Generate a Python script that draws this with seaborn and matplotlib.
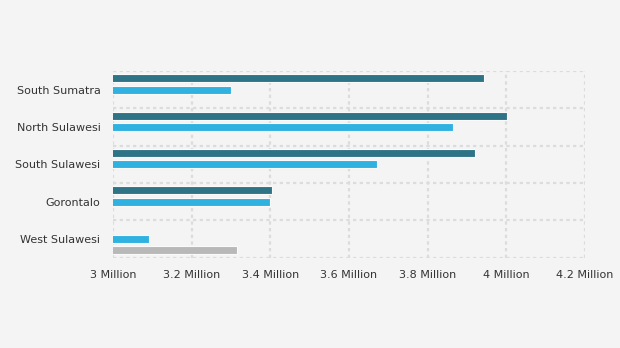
import matplotlib
matplotlib.use("Agg")
import matplotlib.pyplot as plt
import seaborn as sns
import pandas as pd
import numpy as np
from matplotlib.ticker import FuncFormatter, FixedLocator

categories = ["South Sumatra", "North Sulawesi", "South Sulawesi", "Gorontalo", "West Sulawesi"]
series_names = ["Series A", "Series B", "Series C"]
series_a = [3943000, 4002000, 3921000, 3404000, np.nan]
series_b = [3300000, 3864000, 3671000, 3399000, 3092000]
series_c = [np.nan, np.nan, np.nan, np.nan, 3315000]
colors = ["#2f7387", "#2fb2e0", "#b8b8b8"]
x_ticks = [3.0e6, 3.2e6, 3.4e6, 3.6e6, 3.8e6, 4.0e6, 4.2e6]

rows = []
for name, vals in zip(series_names, [series_a, series_b, series_c]):
    for c, v in zip(categories, vals):
        if not np.isnan(v):
            rows.append({"category": c, "series": name, "value": v})
df = pd.DataFrame(rows)

sns.set_style("white")
plt.rcParams["font.family"] = ["DejaVu Sans"]

fig = plt.figure(figsize=(6.2, 3.48), dpi=100)
fig.patch.set_facecolor("#f4f4f4")
ax = fig.add_axes([113 / 620, 1 - 257.7 / 348, (585 - 113) / 620, (257.7 - 71) / 348])
ax.set_facecolor("#f4f4f4")

sns.barplot(data=df, y="category", x="value", hue="series", order=categories,
            hue_order=series_names, palette=colors, orient="h", width=0.91,
            gap=0.28, saturation=1, edgecolor="#fafafa", linewidth=0.8, legend=False,
            ax=ax, zorder=3)

ax.set_xlim(x_ticks[0], x_ticks[-1])
ax.set_ylim(len(categories) - 0.5, -0.5)
ax.xaxis.set_major_locator(FixedLocator(x_ticks))
ax.xaxis.set_major_formatter(FuncFormatter(lambda v, p: f"{v/1e6:g} Million"))
ax.yaxis.set_minor_locator(FixedLocator(np.arange(-0.5, len(categories), 1.0)))

grid_kw = dict(color="#dcdcdc", linewidth=1.6, linestyle=(0, (1.5, 1.5)))
ax.grid(which="major", axis="x", **grid_kw)
ax.grid(which="minor", axis="y", **grid_kw)
ax.grid(which="major", axis="y", visible=False)
ax.set_axisbelow(True)
for s in ax.spines.values():
    s.set_visible(False)

ax.set_xlabel("")
ax.set_ylabel("")
ax.tick_params(axis="x", length=0, pad=9, labelsize=8, labelcolor="#333333")
ax.tick_params(axis="y", which="major", length=5, width=1, color="#d0d0d0", pad=4,
               labelsize=8, labelcolor="#333333")
ax.tick_params(axis="y", which="minor", length=0)

fig.savefig("out.png", dpi=100, facecolor=fig.get_facecolor())
